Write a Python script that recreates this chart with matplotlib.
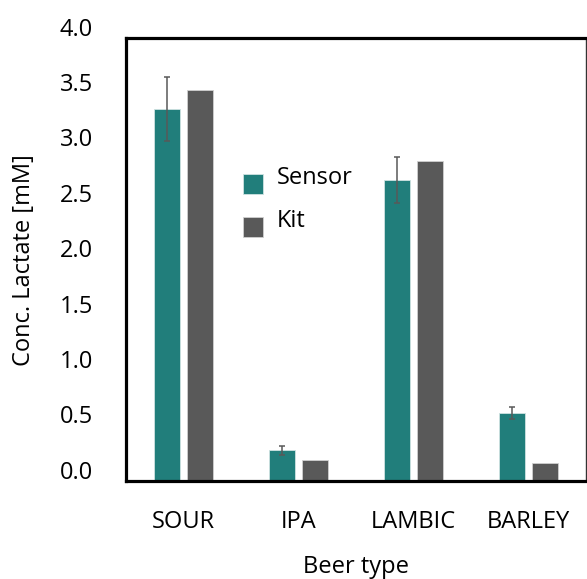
import matplotlib.pyplot as plt
import matplotlib.transforms as mtransforms
import numpy as np

plt.rcParams['font.family'] = ['Open Sans', 'DejaVu Sans']

# data
beers = ['SOUR', 'IPA', 'LAMBIC', 'BARLEY']
sensor = [3.36, 0.28, 2.72, 0.615]
sensor_err = [0.29, 0.04, 0.21, 0.055]
kit = [3.53, 0.19, 2.89, 0.166]
yticks = [0.0, 0.5, 1.0, 1.5, 2.0, 2.5, 3.0, 3.5, 4.0]

teal = '#217e7b'
grey = '#595959'

x = np.arange(len(beers))
w = 0.226
off = 0.143

fig = plt.figure(figsize=(5.87, 5.79), dpi=100)
ax = fig.add_axes([0.2147, 0.169, 0.7833, 0.765])

ax.bar(x - off, sensor, w, color=teal, edgecolor='#cfe3e2', linewidth=0.6, label='Sensor',
       yerr=sensor_err, error_kw=dict(ecolor=grey, elinewidth=1.1, capsize=2.5, capthick=1.1))
ax.bar(x + off, kit, w, color=grey, edgecolor='#d0d0d0', linewidth=0.6, label='Kit')

ax.set_xlim(-0.5, 3.5)
ax.set_ylim(0, 4.0)
ax.set_xticks(x)
ax.set_xticklabels(beers, fontsize=17)
ax.set_yticks(yticks)
ax.set_yticklabels(['%.1f' % v for v in yticks], fontsize=17)
ax.tick_params(axis='both', length=0)
ax.tick_params(axis='x', pad=21)
ax.tick_params(axis='y', pad=24)

# tick labels sit a little above their gridline positions in the original
shift = mtransforms.ScaledTranslation(0, 8.3 / 72, fig.dpi_scale_trans)
for lab in ax.get_yticklabels():
    lab.set_transform(lab.get_transform() + shift)

ax.set_xlabel('Beer type', fontsize=17, labelpad=15)
ax.set_ylabel('Conc. Lactate [mM]', fontsize=17, labelpad=17)

for side in ['left', 'top', 'bottom']:
    ax.spines[side].set_linewidth(2.3)
ax.spines['right'].set_linewidth(1.0)
ax.spines['right'].set_color('#333333')

leg = ax.legend(loc='upper left', bbox_to_anchor=(0.209, 0.742), frameon=False, fontsize=17,
                handlelength=0.85, handleheight=0.95, handletextpad=0.55, labelspacing=0.8)
for t in leg.get_texts():
    t.set_position((0, 8))

fig.savefig('out.png', dpi=100)
